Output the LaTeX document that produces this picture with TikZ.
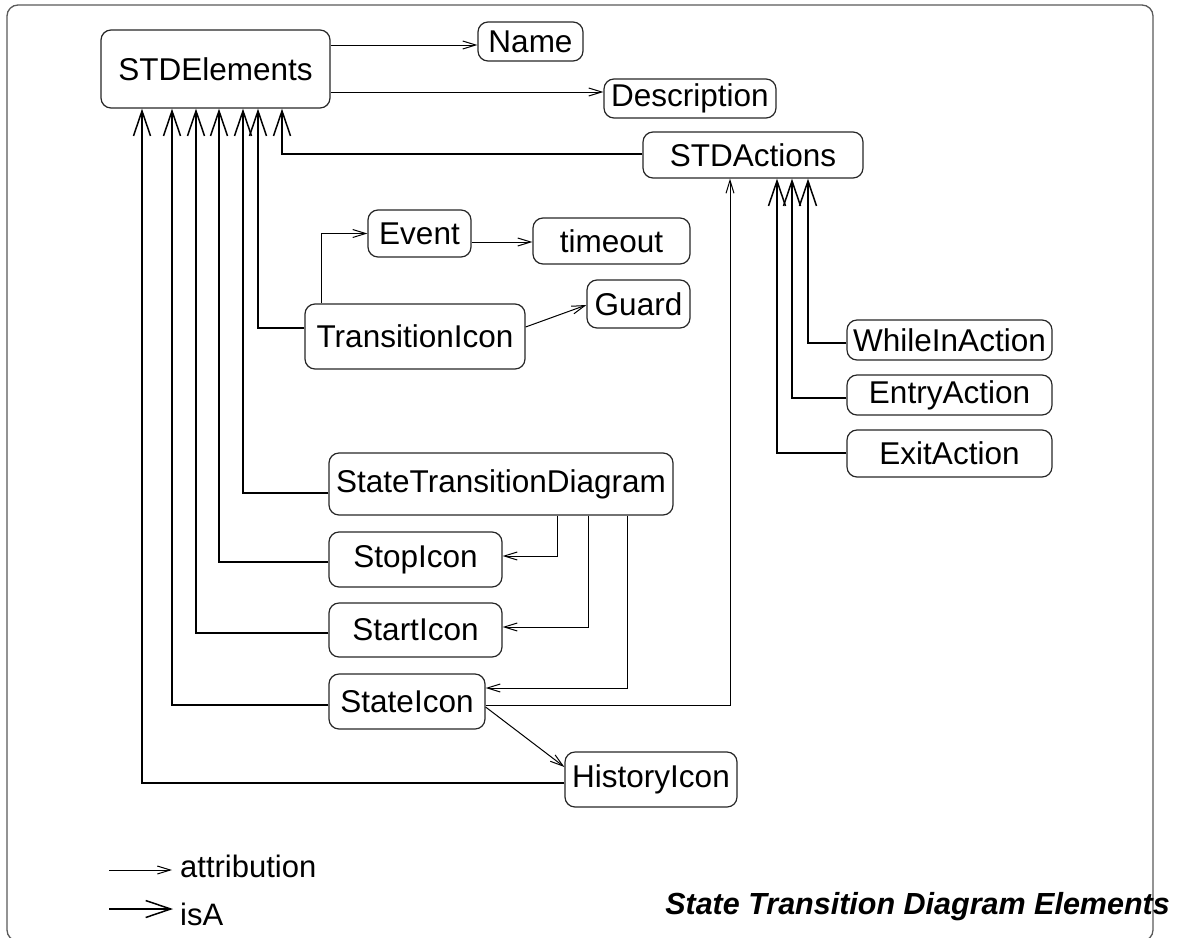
\documentclass[tikz,border=0pt]{standalone}
\usepackage{fontspec}
\setmainfont{Liberation Sans}
\usetikzlibrary{arrows.meta,calc}

\begin{document}
\begin{tikzpicture}[x=1pt,y=-1pt,
  box/.style={draw=black!85, line width=1.2pt, rounded corners=10pt,
              inner sep=0pt, font=\fontsize{31.5}{36}\selectfont},
  attr/.style={draw=black, line width=1pt,
               -{Straight Barb[length=13pt,width=8pt]}},
  isa/.style={draw=black, line width=1.5pt,
              -{Straight Barb[length=25pt,width=17pt]}},
  frame/.style={draw=black!65, line width=1.3pt, rounded corners=11pt},
  legendtext/.style={anchor=base west, inner sep=0pt, font=\fontsize{31}{36}\selectfont},
  titletext/.style={anchor=base east, inner sep=0pt,
                    font=\fontsize{30.5}{36}\selectfont\bfseries\itshape}
]
\useasboundingbox (0,0) rectangle (1182,937);

% outer frame (its lower edge runs past the page)
\draw[frame] (7,5) rectangle (1153,941);

% element boxes
\node[box, minimum width=229pt, minimum height=78pt] (stde)    at (215.5,69)   {STDElements};
\node[box, minimum width=105pt, minimum height=39pt] (name)    at (530.5,41.5) {Name};
\node[box, minimum width=172pt, minimum height=39pt] (desc)    at (690,98.5)   {Description};
\node[box, minimum width=220pt, minimum height=46pt] (acts)    at (753,155)    {STDActions};
\node[box, minimum width=103pt, minimum height=47pt] (event)   at (419.5,233.5){Event};
\node[box, minimum width=157pt, minimum height=46pt] (timeout) at (611.5,241)  {timeout};
\node[box, minimum width=220pt, minimum height=65pt] (trans)   at (415,336.5)  {TransitionIcon};
\node[box, minimum width=103pt, minimum height=48pt] (guard)   at (638.5,304)  {Guard};
\node[box, minimum width=205pt, minimum height=40pt] (whilein) at (949.5,340)  {WhileInAction};
\node[box, minimum width=205pt, minimum height=40pt] (entry)   at (949.5,395)  {EntryAction};
\node[box, minimum width=205pt, minimum height=47pt] (exit)    at (949.5,453.5){ExitAction};
\node[box, minimum width=344pt, minimum height=62pt] (std)     at (501,484)    {StateTransitionDiagram};
\node[box, minimum width=173pt, minimum height=55pt] (stop)    at (415.5,559.5){StopIcon};
\node[box, minimum width=173pt, minimum height=54pt] (start)   at (415.5,630)  {StartIcon};
\node[box, minimum width=156pt, minimum height=55pt] (state)   at (407,701.5)  {StateIcon};
\node[box, minimum width=172pt, minimum height=55pt] (hist)    at (651,779.5)  {HistoryIcon};

% attribution connectors
\draw[attr] (stde.east |- 0,45) -- (name.west |- 0,45);
\draw[attr] (stde.east |- 0,92) -- (desc.west |- 0,92);
\draw[attr] (trans.north -| 321,0) |- (event.west);
\draw[attr] (event.east |- 0,242) -- (timeout.west |- 0,242);
\draw[attr] (trans.east |- 0,327) -- (guard.west |- 0,305);
\draw[attr] (std.south -| 557,0) |- (stop.east |- 0,556);
\draw[attr] (std.south -| 588,0) |- (start.east |- 0,627);
\draw[attr] (std.south -| 627,0) |- (state.east |- 0,688);
\draw[attr] (state.east |- 0,705) -| (acts.south -| 730,0);
\draw[attr] (state.east |- 0,707) -- (hist.west |- 0,767);

% isA connectors into STDElements
\draw[isa] (acts.west |- 0,154) -| (stde.south -| 282,0);
\draw[isa] (trans.west |- 0,328) -| (stde.south -| 258,0);
\draw[isa] (std.west |- 0,493)   -| (stde.south -| 243,0);
\draw[isa] (stop.west |- 0,562)  -| (stde.south -| 219,0);
\draw[isa] (start.west |- 0,633) -| (stde.south -| 196,0);
\draw[isa] (state.west |- 0,705) -| (stde.south -| 172,0);
\draw[isa] (hist.west |- 0,783)  -| (stde.south -| 142,0);

% isA connectors into STDActions
\draw[isa] (whilein.west |- 0,343) -| (acts.south -| 808,0);
\draw[isa] (entry.west |- 0,398)   -| (acts.south -| 792,0);
\draw[isa] (exit.west |- 0,453)    -| (acts.south -| 777,0);

% legend
\coordinate (la0) at (109,870);
\coordinate (la1) at (172,870);
\coordinate (lb0) at (109,909);
\coordinate (lb1) at (173,909);
\draw[attr] (la0) -- (la1);
\draw[isa]  (lb0) -- (lb1);
\node[legendtext] (lattr) at (180,877) {attribution};
\node[legendtext] (lisa)  at (180,925) {isA};

% caption
\node[titletext] (title) at (1170,914) {State Transition Diagram Elements};
\end{tikzpicture}
\end{document}
